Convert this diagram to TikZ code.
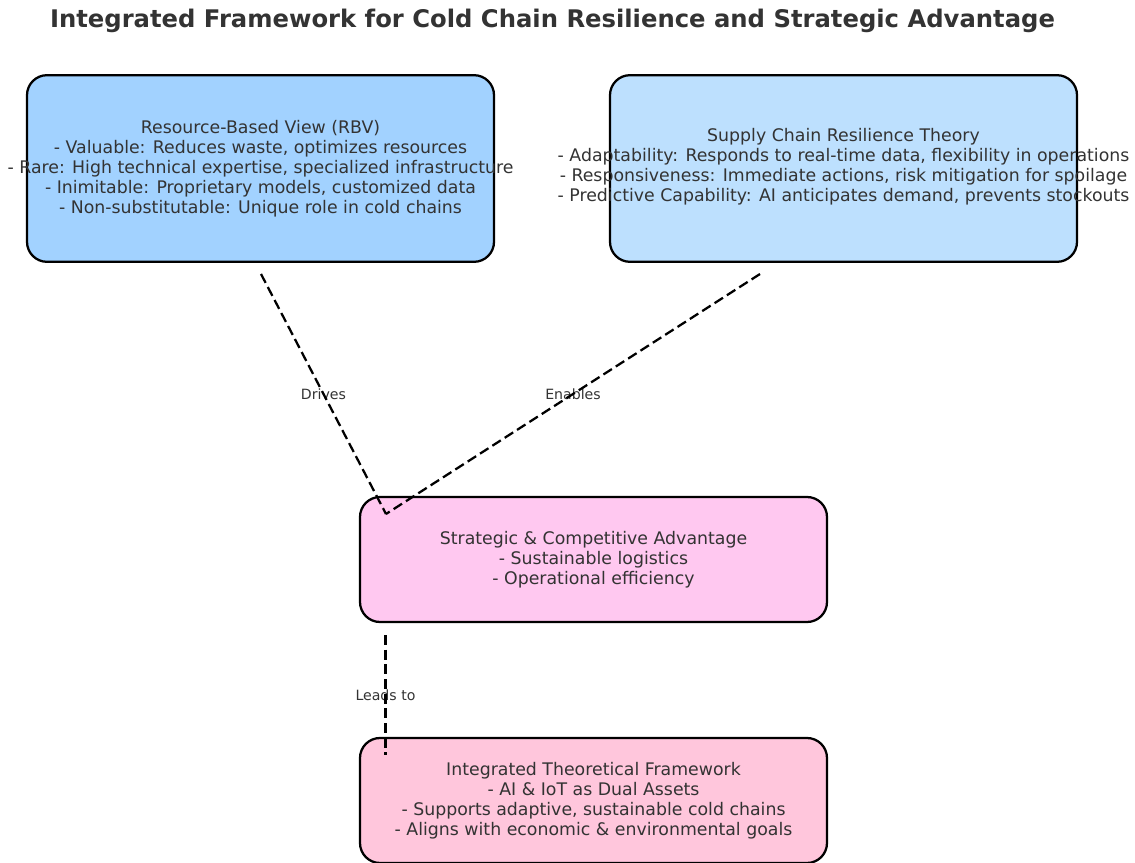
\documentclass[tikz,border=0pt]{standalone}
\usepackage{fontspec}
\setmainfont{DejaVu Sans}
\definecolor{txt}{HTML}{333333}
\definecolor{cA}{HTML}{A2D2FF}
\definecolor{cB}{HTML}{BDE0FE}
\definecolor{cC}{HTML}{FFC8F0}
\definecolor{cD}{HTML}{FFC6DC}
\begin{document}
\begin{tikzpicture}[x=0.75pt,y=-0.75pt,
  box/.style={draw=black,line width=1.7pt,rounded corners=15pt,minimum width=350.25pt,minimum height=140pt,inner sep=0pt},
  boxtxt/.style={text=txt,align=center,inner sep=0pt,font=\fontsize{13}{15}\selectfont},
  lbl/.style={text=txt,inner sep=0pt,font=\fontsize{10.6}{12}\selectfont},
  conn/.style={draw=black,line width=1.7pt,dash pattern=on 7.5pt off 3.5pt}]
\useasboundingbox (0,0) rectangle (1135,863);
\node[text=txt,font=\bfseries\fontsize{18.2}{22}\selectfont,anchor=base,inner sep=0pt] (title) at (552.5,28) {Integrated Framework for Cold Chain Resilience and Strategic Advantage};
% boxes
\node[box,fill=cA] (rbv) at (260.5,168.5) {};
\node[box,fill=cB] (scr) at (843.5,168.5) {};
\node[box,fill=cC,minimum height=93.75pt] (sca) at (593.5,559.5) {};
\node[box,fill=cD,minimum height=93.75pt] (itf) at (593.5,800.5) {};
% texts
\node[boxtxt] (trbv) at ([yshift=-0.5pt]rbv.center) {Resource-Based View (RBV)\\- Valuable: Reduces waste, optimizes resources\\- Rare: High technical expertise, specialized infrastructure\\- Inimitable: Proprietary models, customized data\\- Non-substitutable: Unique role in cold chains};
\node[boxtxt] (tscr) at ([yshift=1pt]scr.center) {Supply Chain Resilience Theory\\- Adaptability: Responds to real-time data, flexibility in operations\\- Responsiveness: Immediate actions, risk mitigation for spoilage\\- Predictive Capability: AI anticipates demand, prevents stockouts};
\node[boxtxt] (tsca) at ([yshift=-0.5pt]sca.center) {Strategic \& Competitive Advantage\\- Sustainable logistics\\- Operational efficiency};
\node[boxtxt] (titf) at (itf.center) {Integrated Theoretical Framework\\- AI \& IoT as Dual Assets\\- Supports adaptive, sustainable cold chains\\- Aligns with economic \& environmental goals};
% connector end points
\coordinate (d1) at (261,274);
\coordinate (e1) at (760,274);
\coordinate (j) at (386,514);
\coordinate (l1) at (385.5,635);
\coordinate (l2) at (385.5,755);
% labels
\path (d1) -- (j) node[lbl,midway] (ldr) {Drives};
\path (e1) -- (j) node[lbl,midway] (len) {Enables};
\path (l1) -- (l2) node[lbl,midway] (lle) {Leads to};
% connectors
\draw[conn] (d1) -- (j);
\draw[conn] (e1) -- (j);
\draw[conn] (l1) -- (l2);
\end{tikzpicture}
\end{document}
